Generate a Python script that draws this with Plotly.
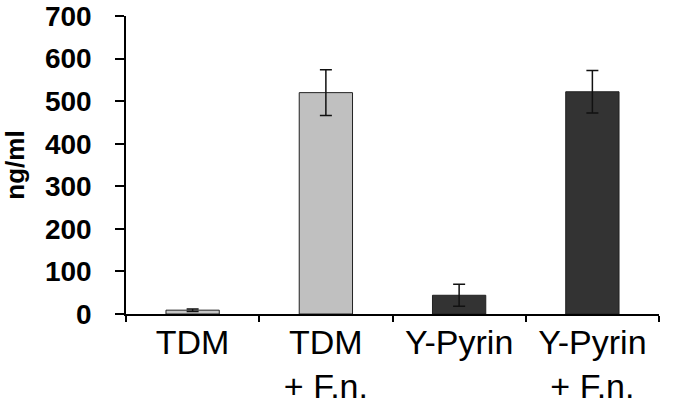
import plotly.graph_objects as go

categories = ["TDM", "TDM<br>+ F.n.", "Y-Pyrin", "Y-Pyrin<br>+ F.n."]
values = [9, 520, 44, 522]
errors = [3, 54, 26, 50]
colors = ["#c6c6c6", "#c0c0c0", "#333333", "#333333"]
y_ticks = [0, 100, 200, 300, 400, 500, 600, 700]

fig = go.Figure(go.Bar(
    x=categories, y=values,
    marker=dict(color=colors, line=dict(color="#222222", width=1)),
    width=0.4,
    error_y=dict(type="data", array=errors, visible=True,
                 color="#111111", thickness=1.5, width=6),
))

fig.update_layout(
    width=684, height=404,
    margin=dict(l=126, r=25, t=16, b=90),
    paper_bgcolor="white", plot_bgcolor="white",
    showlegend=False,
    font=dict(family="Liberation Sans, Arial, sans-serif", color="black"),
)
fig.update_xaxes(
    range=[-0.5, 3.5], showline=True, linecolor="black", linewidth=1.5,
    ticks="outside", tickson="boundaries", ticklen=6, tickwidth=1.5, tickcolor="black",
    tickfont=dict(size=34), showgrid=False, zeroline=False, automargin=False,
    ticklabelstandoff=-3,
)
fig.update_yaxes(
    range=[0, 700], tickvals=y_ticks, showline=True, linecolor="black", linewidth=1.5,
    ticks="outside", ticklen=9, tickwidth=1.5, tickcolor="black",
    tickfont=dict(size=28, family="Liberation Sans, Arial, sans-serif", weight="bold"),
    ticklabelstandoff=18,
    title=dict(text="<b>ng/ml</b>", font=dict(size=26), standoff=13),
    showgrid=False, zeroline=False, automargin=False,
)

fig.write_html("out.html", config={"displayModeBar": False},
               post_script="document.body.style.margin='0';")
